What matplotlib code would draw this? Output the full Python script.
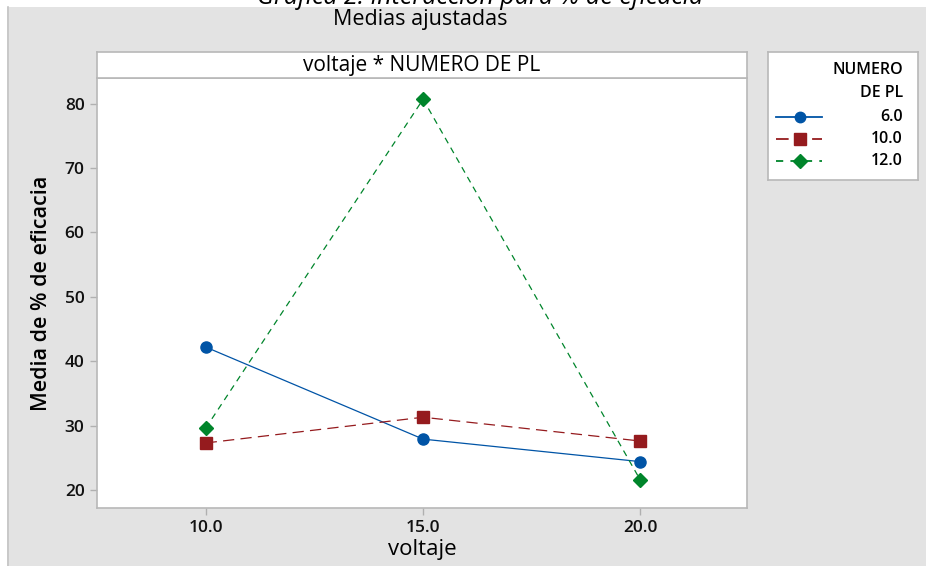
import matplotlib.pyplot as plt
from matplotlib.lines import Line2D
from matplotlib.patches import Rectangle

# Datos (medias ajustadas)
voltaje = [10.0, 15.0, 20.0]
media_pl6 = [42.2, 27.9, 24.4]
media_pl10 = [27.3, 31.3, 27.6]
media_pl12 = [29.6, 80.7, 21.5]
niveles = ['6.0', '10.0', '12.0']
yticks = [20, 30, 40, 50, 60, 70, 80]

W, H = 926, 566
plt.rcParams['font.family'] = ['Open Sans', 'DejaVu Sans']

fondo = '#e3e3e3'
fig = plt.figure(figsize=(W / 100, H / 100), dpi=100, facecolor=fondo)

def fx(px):
    return px / W

def fy(py):
    return 1 - py / H

# franjas blancas arriba e izquierda, borde gris
fig.patches.append(Rectangle((-0.01, fy(7)), 1.02, 0.05, transform=fig.transFigure,
                             facecolor='white', edgecolor='none', zorder=-10))
fig.patches.append(Rectangle((-0.01, -0.01), fx(7) + 0.01, 1.02, transform=fig.transFigure,
                             facecolor='white', edgecolor='none', zorder=-10))
fig.lines.append(Line2D([fx(7.5), fx(7.5)], [0, fy(7)], transform=fig.transFigure,
                        color='#c4c4c4', lw=1.2, zorder=-9))

# titulos
fig.text(fx(480), fy(-3), 'Gráfica 2: Interacción para % de eficacia', ha='center', va='center',
         fontsize=18, style='italic', color='black')
fig.text(fx(420), fy(20), 'Medias ajustadas', ha='center', va='center', fontsize=15.5, color='black')

# panel principal
ax = fig.add_axes([fx(97), fy(508), fx(747) - fx(97), fy(78) - fy(508)])
ax.set_facecolor('white')
ax.set_xlim(7.5, 22.45)
ax.set_ylim(17.2, 84.0)

colores = ['#0054a6', '#951b1e', '#00852b']
ax.plot(voltaje, media_pl6, '-', color=colores[0], lw=0.9, marker='o', ms=8, zorder=3)
ax.plot(voltaje, media_pl10, '-', color=colores[1], lw=0.9, marker='s', ms=8,
        dashes=(9, 5), zorder=3)
ax.plot(voltaje, media_pl12, '-', color=colores[2], lw=0.9, marker='D', ms=7,
        dashes=(5, 4), zorder=3)

ax.set_xticks(voltaje)
ax.set_xticklabels([f'{v:.1f}' for v in voltaje])
ax.set_yticks(yticks)
for s in ax.spines.values():
    s.set_color('#b8b8b8')
    s.set_linewidth(1.2)
ax.tick_params(colors='#b0b0b0', length=5, width=1, labelcolor='#111111', labelsize=12.5)
for lab in ax.get_xticklabels() + ax.get_yticklabels():
    lab.set_fontweight('semibold')
ax.tick_params(axis='x', pad=4)
ax.tick_params(axis='y', pad=4)

ax.set_xlabel('voltaje', fontsize=16, fontweight='medium', labelpad=2)
ax.set_ylabel('Media de % de eficacia', fontsize=15.5, fontweight='semibold', labelpad=9)

# franja del panel
hax = fig.add_axes([fx(97), fy(78), fx(747) - fx(97), fy(52) - fy(78)])
hax.set_xticks([])
hax.set_yticks([])
hax.set_facecolor('white')
for s in hax.spines.values():
    s.set_color('#b8b8b8')
    s.set_linewidth(1.2)
hax.text(0.5, 0.5, 'voltaje * NUMERO DE PL', ha='center', va='center', fontsize=15,
         fontweight='medium', transform=hax.transAxes)

# leyenda
lax = fig.add_axes([fx(768), fy(180), fx(918) - fx(768), fy(52) - fy(180)])
lax.set_xlim(768, 918)
lax.set_ylim(180, 52)
lax.set_xticks([])
lax.set_yticks([])
for s in lax.spines.values():
    s.set_color('#b8b8b8')
    s.set_linewidth(1.2)
lax.text(903, 70, 'NUMERO', ha='right', va='center', fontsize=11.5, fontweight='semibold')
lax.text(903, 93, 'DE PL', ha='right', va='center', fontsize=11.5, fontweight='semibold')
estilos = [('o', 7.5, None), ('s', 8, (7, 3)), ('D', 7, (4, 4))]
filas = [117, 139, 161]
for (mk, ms, ds), c, nivel, yy in zip(estilos, colores, niveles, filas):
    ln = Line2D([776, 822], [yy, yy], color=c, lw=1.3)
    if ds:
        ln.set_dashes(ds)
    lax.add_line(ln)
    lax.plot([800], [yy], marker=mk, ms=ms, color=c, ls='none')
    lax.text(903, yy, nivel, ha='right', va='center', fontsize=11.5, fontweight='semibold')

fig.savefig('out.png', dpi=100, facecolor=fondo)
